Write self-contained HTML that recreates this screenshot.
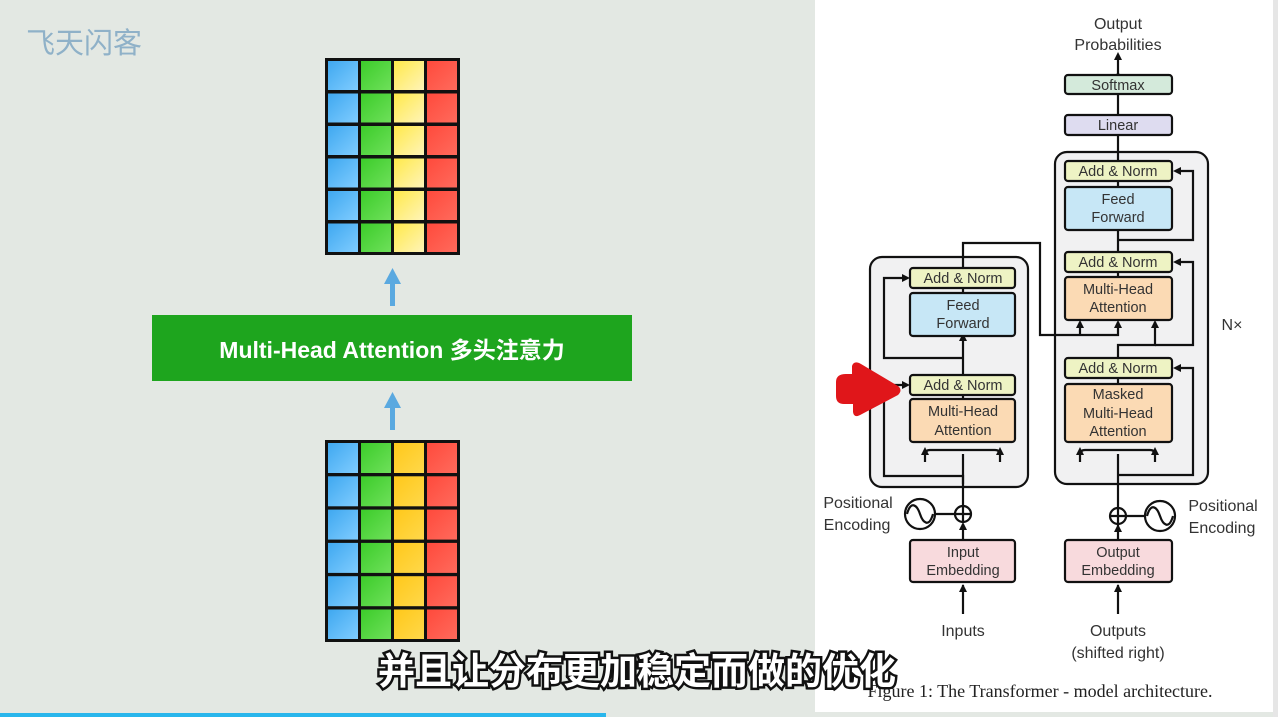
<!DOCTYPE html>
<html><head><meta charset="utf-8"><style>
html,body{margin:0;padding:0;width:1278px;height:717px;overflow:hidden;background:#e3e8e3;}
svg{display:block}
.t{font-family:"Liberation Sans",sans-serif;fill:#333;font-size:14.5px;text-anchor:middle}
.b{stroke:#111;stroke-width:2.2}
.l{stroke:#111;stroke-width:2.2;fill:none}
</style></head><body>
<svg width="1278" height="717" viewBox="0 0 1278 717" xmlns="http://www.w3.org/2000/svg">
<defs>
<linearGradient id="gb" x1="0" y1="0" x2="1" y2="1"><stop offset="0" stop-color="#3fa8f0"/><stop offset="1" stop-color="#7fccff"/></linearGradient>
<linearGradient id="gg" x1="0" y1="0" x2="1" y2="1"><stop offset="0" stop-color="#3ccc2a"/><stop offset="1" stop-color="#6ee05a"/></linearGradient>
<linearGradient id="gy" x1="0" y1="0" x2="1" y2="1"><stop offset="0" stop-color="#ffe94a"/><stop offset="1" stop-color="#fff4b8"/></linearGradient>
<linearGradient id="gy2" x1="0" y1="0" x2="1" y2="1"><stop offset="0" stop-color="#ffc81a"/><stop offset="1" stop-color="#ffd84a"/></linearGradient>
<linearGradient id="gr" x1="0" y1="0" x2="1" y2="1"><stop offset="0" stop-color="#ff4a3c"/><stop offset="1" stop-color="#ff6a5c"/></linearGradient>
</defs>
<rect width="1278" height="717" fill="#e3e8e3"/>
<text x="26" y="53" font-family="'Noto Sans CJK SC',sans-serif" font-size="29" fill="#8fb1c8">飞天闪客</text>

<rect x="325" y="58" width="135" height="197" fill="#111"/>
<g>
<rect x="328" y="61" width="30" height="29" fill="url(#gb)"/><rect x="361" y="61" width="30" height="29" fill="url(#gg)"/><rect x="394" y="61" width="30" height="29" fill="url(#gy)"/><rect x="427" y="61" width="30" height="29" fill="url(#gr)"/>
<rect x="328" y="93.5" width="30" height="29" fill="url(#gb)"/><rect x="361" y="93.5" width="30" height="29" fill="url(#gg)"/><rect x="394" y="93.5" width="30" height="29" fill="url(#gy)"/><rect x="427" y="93.5" width="30" height="29" fill="url(#gr)"/>
<rect x="328" y="126" width="30" height="29" fill="url(#gb)"/><rect x="361" y="126" width="30" height="29" fill="url(#gg)"/><rect x="394" y="126" width="30" height="29" fill="url(#gy)"/><rect x="427" y="126" width="30" height="29" fill="url(#gr)"/>
<rect x="328" y="158.5" width="30" height="29" fill="url(#gb)"/><rect x="361" y="158.5" width="30" height="29" fill="url(#gg)"/><rect x="394" y="158.5" width="30" height="29" fill="url(#gy)"/><rect x="427" y="158.5" width="30" height="29" fill="url(#gr)"/>
<rect x="328" y="191" width="30" height="29" fill="url(#gb)"/><rect x="361" y="191" width="30" height="29" fill="url(#gg)"/><rect x="394" y="191" width="30" height="29" fill="url(#gy)"/><rect x="427" y="191" width="30" height="29" fill="url(#gr)"/>
<rect x="328" y="223.5" width="30" height="28.5" fill="url(#gb)"/><rect x="361" y="223.5" width="30" height="28.5" fill="url(#gg)"/><rect x="394" y="223.5" width="30" height="28.5" fill="url(#gy)"/><rect x="427" y="223.5" width="30" height="28.5" fill="url(#gr)"/>
</g>
<rect x="325" y="440" width="135" height="202" fill="#111"/>
<g>
<rect x="328" y="443" width="30" height="30" fill="url(#gb)"/><rect x="361" y="443" width="30" height="30" fill="url(#gg)"/><rect x="394" y="443" width="30" height="30" fill="url(#gy2)"/><rect x="427" y="443" width="30" height="30" fill="url(#gr)"/>
<rect x="328" y="476.3" width="30" height="30" fill="url(#gb)"/><rect x="361" y="476.3" width="30" height="30" fill="url(#gg)"/><rect x="394" y="476.3" width="30" height="30" fill="url(#gy2)"/><rect x="427" y="476.3" width="30" height="30" fill="url(#gr)"/>
<rect x="328" y="509.6" width="30" height="30" fill="url(#gb)"/><rect x="361" y="509.6" width="30" height="30" fill="url(#gg)"/><rect x="394" y="509.6" width="30" height="30" fill="url(#gy2)"/><rect x="427" y="509.6" width="30" height="30" fill="url(#gr)"/>
<rect x="328" y="542.9" width="30" height="30" fill="url(#gb)"/><rect x="361" y="542.9" width="30" height="30" fill="url(#gg)"/><rect x="394" y="542.9" width="30" height="30" fill="url(#gy2)"/><rect x="427" y="542.9" width="30" height="30" fill="url(#gr)"/>
<rect x="328" y="576.2" width="30" height="30" fill="url(#gb)"/><rect x="361" y="576.2" width="30" height="30" fill="url(#gg)"/><rect x="394" y="576.2" width="30" height="30" fill="url(#gy2)"/><rect x="427" y="576.2" width="30" height="30" fill="url(#gr)"/>
<rect x="328" y="609.5" width="30" height="29.5" fill="url(#gb)"/><rect x="361" y="609.5" width="30" height="29.5" fill="url(#gg)"/><rect x="394" y="609.5" width="30" height="29.5" fill="url(#gy2)"/><rect x="427" y="609.5" width="30" height="29.5" fill="url(#gr)"/>
</g>
<g fill="#5aa9e0"><rect x="390" y="282" width="5" height="24"/><path d="M384,284 L392.5,268 L401,284 Z"/>
<rect x="390" y="406" width="5" height="24"/><path d="M384,408 L392.5,392 L401,408 Z"/></g>
<rect x="152" y="315" width="480" height="66" fill="#1ea51e"/>
<text x="392" y="358" text-anchor="middle" font-family="'Liberation Sans','Noto Sans CJK SC',sans-serif" font-weight="bold" font-size="23" fill="#fff">Multi-Head Attention 多头注意力</text>

<rect x="815" y="0" width="458" height="712" fill="#fff"/>
<rect x="1273" y="0" width="5" height="717" fill="#e6e6e6"/>
<rect x="870" y="257" width="158" height="230" rx="12" fill="#f1f1f2" class="b"/>
<rect x="1055" y="152" width="153" height="332" rx="12" fill="#f1f1f2" class="b"/>
<g class="l">
<line x1="963" y1="585" x2="963" y2="614"/>
<line x1="963" y1="524" x2="963" y2="540"/>
<line x1="963" y1="454" x2="963" y2="506"/>
<line x1="963" y1="442" x2="963" y2="395"/>
<line x1="963" y1="375" x2="963" y2="336"/>
<line x1="963" y1="293" x2="963" y2="288"/>
<path d="M963,268 V243 H1040 V335 H1118 V322"/>
<path d="M1080,335 V322"/>
<path d="M963,484 V476 H884 V385 H905"/>
<path d="M963,358 H884 V278 H905"/>
<path d="M925,462 V455 Q925,450 930,450 H995 Q1000,450 1000,455 V462"/>
<line x1="1118" y1="585" x2="1118" y2="614"/>
<line x1="1118" y1="524" x2="1118" y2="540"/>
<line x1="1118" y1="454" x2="1118" y2="508"/>
<line x1="1118" y1="378" x2="1118" y2="384"/>
<path d="M1118,358 V345 H1155 V322"/>
<line x1="1118" y1="277" x2="1118" y2="272"/>
<line x1="1118" y1="252" x2="1118" y2="230"/>
<line x1="1118" y1="187" x2="1118" y2="181"/>
<line x1="1118" y1="161" x2="1118" y2="136"/>
<line x1="1118" y1="115" x2="1118" y2="95"/>
<line x1="1118" y1="75" x2="1118" y2="58"/>
<path d="M1118,475 H1193 V368 H1178"/>
<path d="M1155,345 H1193 V262 H1178"/>
<path d="M1118,240 H1193 V171 H1178"/>
<path d="M1080,462 V455 Q1080,450 1085,450 H1150 Q1155,450 1155,455 V462"/>
</g>
<g fill="#111">
<path d="M959,592 L963,584 L967,592Z"/><path d="M959,530 L963,522 L967,530Z"/>
<path d="M959,404 L963,396 L967,404Z"/><path d="M959,341 L963,333 L967,341Z"/>
<path d="M921,455 L925,447 L929,455Z"/><path d="M996,455 L1000,447 L1004,455Z"/>
<path d="M902,381 L910,385 L902,389Z"/><path d="M902,274 L910,278 L902,282Z"/>
<path d="M1114,592 L1118,584 L1122,592Z"/><path d="M1114,532 L1118,524 L1122,532Z"/>
<path d="M1114,389 L1118,381 L1122,389Z"/><path d="M1114,282 L1118,274 L1122,282Z"/><path d="M1114,192 L1118,184 L1122,192Z"/>
<path d="M1114,120 L1118,112 L1122,120Z"/><path d="M1114,79 L1118,71 L1122,79Z"/><path d="M1114,60 L1118,52 L1122,60Z"/>
<path d="M1076,455 L1080,447 L1084,455Z"/><path d="M1151,455 L1155,447 L1159,455Z"/>
<path d="M1076,328 L1080,320 L1084,328Z"/><path d="M1114,328 L1118,320 L1122,328Z"/><path d="M1151,328 L1155,320 L1159,328Z"/>
<path d="M1181,364 L1173,368 L1181,372Z"/><path d="M1181,258 L1173,262 L1181,266Z"/><path d="M1181,167 L1173,171 L1181,175Z"/>
</g>
<g class="b">
<rect x="910" y="268" width="105" height="20" rx="3" fill="#eef3c4"/>
<rect x="910" y="293" width="105" height="43" rx="3" fill="#c7e7f6"/>
<rect x="910" y="375" width="105" height="20" rx="3" fill="#eef3c4"/>
<rect x="910" y="399" width="105" height="43" rx="3" fill="#fbdab4"/>
<rect x="910" y="540" width="105" height="42" rx="3" fill="#f8dadd"/>
<rect x="1065" y="75" width="107" height="19" rx="3" fill="#d4eadb"/>
<rect x="1065" y="115" width="107" height="20" rx="3" fill="#dedcf0"/>
<rect x="1065" y="161" width="107" height="20" rx="3" fill="#eef3c4"/>
<rect x="1065" y="187" width="107" height="43" rx="3" fill="#c7e7f6"/>
<rect x="1065" y="252" width="107" height="20" rx="3" fill="#eef3c4"/>
<rect x="1065" y="277" width="107" height="43" rx="3" fill="#fbdab4"/>
<rect x="1065" y="358" width="107" height="20" rx="3" fill="#eef3c4"/>
<rect x="1065" y="384" width="107" height="58" rx="3" fill="#fbdab4"/>
<rect x="1065" y="540" width="107" height="42" rx="3" fill="#f8dadd"/>
</g>
<g class="l" stroke-width="1.8">
<circle cx="963" cy="514" r="8" fill="#fff"/><path d="M955,514 H971 M963,506 V522"/>
<line x1="935" y1="514" x2="955" y2="514"/>
<circle cx="920" cy="514" r="15"/><path d="M907,514 C911,500 917,505 920,514 C923,523 929,528 933,514"/>
<circle cx="1118" cy="516" r="8" fill="#fff"/><path d="M1110,516 H1126 M1118,508 V524"/>
<line x1="1126" y1="516" x2="1145" y2="516"/>
<circle cx="1160" cy="516" r="15"/><path d="M1147,516 C1151,502 1157,507 1160,516 C1163,525 1169,530 1173,516"/>
</g>
<g class="t">
<text x="963" y="283">Add &amp; Norm</text>
<text x="963" y="310">Feed</text><text x="963" y="328">Forward</text>
<text x="963" y="390">Add &amp; Norm</text>
<text x="963" y="416">Multi-Head</text><text x="963" y="435">Attention</text>
<text x="963" y="557">Input</text><text x="963" y="575">Embedding</text>
<text x="1118" y="90">Softmax</text>
<text x="1118" y="130">Linear</text>
<text x="1118" y="176">Add &amp; Norm</text>
<text x="1118" y="204">Feed</text><text x="1118" y="222">Forward</text>
<text x="1118" y="267">Add &amp; Norm</text>
<text x="1118" y="294">Multi-Head</text><text x="1118" y="312">Attention</text>
<text x="1118" y="373">Add &amp; Norm</text>
<text x="1118" y="399">Masked</text><text x="1118" y="418">Multi-Head</text><text x="1118" y="436">Attention</text>
<text x="1118" y="557">Output</text><text x="1118" y="575">Embedding</text>
</g>
<g class="t" style="font-size:16px">
<text x="1118" y="29">Output</text><text x="1118" y="50">Probabilities</text>
<text x="858" y="508">Positional</text><text x="857" y="530">Encoding</text>
<text x="1223" y="511">Positional</text><text x="1222" y="533">Encoding</text>
<text x="963" y="636">Inputs</text>
<text x="1118" y="636">Outputs</text><text x="1118" y="658">(shifted right)</text>
<text x="1232" y="330">N×</text>
</g>
<text x="1040" y="697" text-anchor="middle" font-family="'Liberation Serif',serif" font-size="18" fill="#222">Figure 1: The Transformer - model architecture.</text>
<path d="M836,382 Q836,374 846,374 L852,374 L852,366 Q854,360 861,364 L898,386 Q903,390 898,395 L862,414 Q854,419 853,412 L853,404 L844,404 Q836,404 836,396 Z" fill="#e0161a"/>
<text x="637" y="684" text-anchor="middle" font-family="'Noto Sans CJK SC',sans-serif" font-weight="bold" font-size="37" fill="#fff" stroke="#111" stroke-width="5" paint-order="stroke">并且让分布更加稳定而做的优化</text>
<rect x="0" y="713" width="606" height="4" fill="#29b6ec"/>
</svg>
</body></html>
